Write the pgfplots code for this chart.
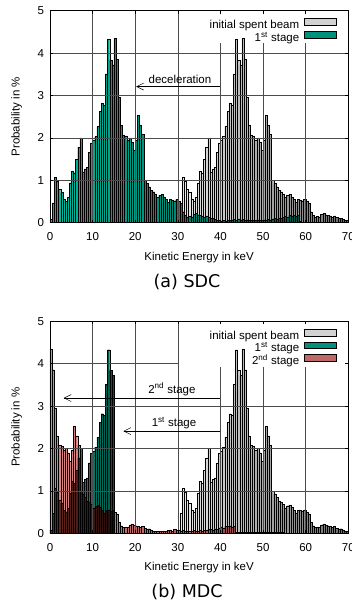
\documentclass[border=0pt]{standalone}
\usepackage{fontspec}
\setmainfont{Liberation Sans}
\newfontfamily\capfont{DejaVu Sans}
\usepackage{pgfplots}
\usepackage{pgfplotstable}
\pgfplotsset{compat=1.18}
\usetikzlibrary{arrows.meta}
\definecolor{grayc}{RGB}{210,210,210}
\definecolor{tealc}{RGB}{0,145,125}
\definecolor{redc}{RGB}{192,104,104}
\definecolor{grayL}{RGB}{235,235,235}
\definecolor{grayR}{RGB}{105,105,105}
\definecolor{tealL}{RGB}{0,185,160}
\definecolor{tealR}{RGB}{0,85,72}
\definecolor{redL}{RGB}{225,135,135}
\definecolor{redR}{RGB}{135,58,58}
\definecolor{darkL}{RGB}{105,40,32}
\definecolor{darkR}{RGB}{35,12,10}

% initial spent beam (SDC and MDC)
\pgfplotstableread{
E P
30.25 0.08
30.75 0.47
31.25 1.07
31.75 0.97
32.25 0.79
32.75 0.71
33.25 0.55
33.75 0.51
34.25 0.60
34.75 0.94
35.25 1.22
35.75 1.18
36.25 1.49
36.75 1.78
37.25 2.00
37.75 1.20
38.25 1.27
38.75 1.31
39.25 1.66
39.75 1.88
40.25 1.94
40.75 2.03
41.25 2.27
41.75 2.62
42.25 2.82
42.75 2.78
43.25 3.51
43.75 4.33
44.25 3.84
44.75 3.72
45.25 4.35
45.75 3.86
46.25 2.95
46.75 2.30
47.25 2.07
47.75 2.05
48.25 1.95
48.75 2.00
49.25 1.90
49.75 1.70
50.25 1.95
50.75 2.53
51.25 2.30
51.75 2.08
52.25 1.00
52.75 0.93
53.25 0.85
53.75 0.76
54.25 0.73
54.75 0.68
55.25 0.60
55.75 0.65
56.25 0.67
56.75 0.61
57.25 0.55
57.75 0.48
58.25 0.55
58.75 0.54
59.25 0.52
59.75 0.55
60.25 0.50
60.75 0.46
61.25 0.26
61.75 0.18
62.25 0.14
62.75 0.15
63.25 0.14
63.75 0.20
64.25 0.22
64.75 0.19
65.25 0.18
65.75 0.16
66.25 0.14
66.75 0.16
67.25 0.12
67.75 0.10
68.25 0.11
68.75 0.08
69.25 0.06
69.75 0.05
}\initial

% 1st stage, SDC
\pgfplotstableread{
E P
0.25 0.08
0.75 0.47
1.25 1.07
1.75 0.97
2.25 0.79
2.75 0.71
3.25 0.55
3.75 0.51
4.25 0.60
4.75 0.94
5.25 1.22
5.75 1.18
6.25 1.49
6.75 1.78
7.25 2.00
7.75 1.20
8.25 1.27
8.75 1.31
9.25 1.66
9.75 1.88
10.25 1.94
10.75 2.03
11.25 2.27
11.75 2.62
12.25 2.82
12.75 2.78
13.25 3.51
13.75 4.33
14.25 3.84
14.75 3.72
15.25 4.35
15.75 3.86
16.25 2.95
16.75 2.30
17.25 2.07
17.75 2.05
18.25 1.95
18.75 2.00
19.25 1.90
19.75 1.70
20.25 1.95
20.75 2.53
21.25 2.30
21.75 2.08
22.25 1.00
22.75 0.93
23.25 0.85
23.75 0.76
24.25 0.73
24.75 0.68
25.25 0.60
25.75 0.65
26.25 0.67
26.75 0.61
27.25 0.55
27.75 0.48
28.25 0.55
28.75 0.54
29.25 0.52
29.75 0.55
30.25 0.50
30.75 0.46
31.25 0.26
31.75 0.18
32.25 0.14
32.75 0.15
33.25 0.14
33.75 0.20
34.25 0.22
34.75 0.19
35.25 0.18
35.75 0.16
36.25 0.14
36.75 0.16
37.25 0.12
37.75 0.10
38.25 0.11
38.75 0.08
39.25 0.06
39.75 0.05
40.25 0.04
40.75 0.05
41.25 0.04
41.75 0.06
42.25 0.05
42.75 0.07
43.25 0.08
43.75 0.06
44.25 0.09
44.75 0.07
45.25 0.08
45.75 0.06
46.25 0.07
46.75 0.05
47.25 0.06
47.75 0.05
48.25 0.06
48.75 0.07
49.25 0.05
49.75 0.06
50.25 0.07
50.75 0.06
51.25 0.08
51.75 0.07
52.25 0.09
52.75 0.10
53.25 0.08
53.75 0.11
54.25 0.10
54.75 0.13
55.25 0.15
55.75 0.13
56.25 0.17
56.75 0.16
57.25 0.18
57.75 0.15
58.25 0.17
58.75 0.03
}\firstsdc

% 1st stage, MDC
\pgfplotstableread{
E P
0.25 0.08
0.75 0.47
1.25 1.07
1.75 0.97
2.25 0.79
2.75 0.71
3.25 0.55
3.75 0.51
4.25 0.60
4.75 0.94
5.25 1.22
5.75 1.18
6.25 1.49
6.75 1.78
7.25 2.00
7.75 1.20
8.25 1.27
8.75 1.31
9.25 1.66
9.75 1.88
10.25 1.94
10.75 2.03
11.25 2.27
11.75 2.62
12.25 2.82
12.75 2.78
13.25 3.51
13.75 4.33
14.25 3.84
14.75 3.72
}\firstmdc

% 2nd stage, MDC
\pgfplotstableread{
E P
0.25 4.35
0.75 3.86
1.25 2.95
1.75 2.30
2.25 2.07
2.75 2.05
3.25 1.95
3.75 2.00
4.25 1.90
4.75 1.70
5.25 1.95
5.75 2.53
6.25 2.30
6.75 2.08
7.25 1.00
7.75 0.93
8.25 0.85
8.75 0.76
9.25 0.73
9.75 0.68
10.25 0.60
10.75 0.65
11.25 0.67
11.75 0.61
12.25 0.55
12.75 0.48
13.25 0.55
13.75 0.54
14.25 0.52
14.75 0.55
15.25 0.50
15.75 0.46
16.25 0.26
16.75 0.18
17.25 0.14
17.75 0.15
18.25 0.14
18.75 0.20
19.25 0.22
19.75 0.19
20.25 0.18
20.75 0.16
21.25 0.14
21.75 0.16
22.25 0.12
22.75 0.10
23.25 0.11
23.75 0.08
24.25 0.06
24.75 0.05
25.25 0.04
25.75 0.05
26.25 0.04
26.75 0.06
27.25 0.05
27.75 0.07
28.25 0.08
28.75 0.06
29.25 0.09
29.75 0.07
30.25 0.08
30.75 0.06
31.25 0.07
31.75 0.05
32.25 0.06
32.75 0.05
33.25 0.06
33.75 0.07
34.25 0.05
34.75 0.06
35.25 0.07
35.75 0.06
36.25 0.08
36.75 0.07
37.25 0.09
37.75 0.10
38.25 0.08
38.75 0.11
39.25 0.10
39.75 0.13
40.25 0.15
40.75 0.13
41.25 0.17
41.75 0.16
42.25 0.18
42.75 0.15
43.25 0.17
43.75 0.03
44.25 0.02
44.75 0.02
45.25 0.02
45.75 0.02
46.25 0.02
46.75 0.02
47.25 0.02
47.75 0.02
48.25 0.02
48.75 0.02
49.25 0.02
49.75 0.02
50.25 0.02
50.75 0.02
51.25 0.02
51.75 0.02
52.25 0.02
52.75 0.02
53.25 0.02
53.75 0.02
54.25 0.02
54.75 0.02
}\secondmdc

% overlap of 1st and 2nd stage (dark part), MDC
\pgfplotstableread{
E P
0.25 0.08
0.75 0.47
1.25 1.07
1.75 0.97
2.25 0.79
2.75 0.71
3.25 0.55
3.75 0.51
4.25 0.60
4.75 0.94
5.25 1.22
5.75 1.18
6.25 1.49
6.75 1.78
7.25 1.00
7.75 0.93
8.25 0.85
8.75 0.76
9.25 0.73
9.75 0.68
10.25 0.60
10.75 0.65
11.25 0.67
11.75 0.61
12.25 0.55
12.75 0.48
13.25 0.55
13.75 0.54
14.25 0.52
14.75 0.55
}\overlapmdc

\newcommand{\txt}{\fontsize{11.5}{13}\selectfont}

\tikzset{gridline/.style={black!70, line width=0.55pt}}

\pgfplotsset{
  hist/.style={
    scale only axis, width=298.3pt, height=212pt,
    xmin=0, xmax=70, ymin=0, ymax=5,
    xtick={0,10,...,70}, ytick={0,1,...,5},
    /pgf/number format/assume math mode=true,
    axis on top,
    axis line style={line width=0.8pt},
    major tick length=3pt, tick style={black, line width=0.5pt},
    tick align=inside,
    ticklabel style={font=\txt},
    xticklabel style={anchor=center, yshift=-14pt},
    yticklabel style={anchor=east, xshift=-2.5pt},
    label style={font=\txt},
    xlabel={Kinetic Energy in keV},
    ylabel={Probability in \%},
    x label style={at={(axis description cs:0.5,-0.163)}, anchor=center},
    y label style={at={(axis description cs:-0.112,0.5)}, anchor=center},
    legend cell align=right,
    legend plot pos=right,
    legend style={at={(rel axis cs:1,1)}, anchor=north east, draw=none, fill=none,
      font=\txt, inner xsep=11pt, inner ysep=7.5pt, row sep=-1.5pt,
      nodes={inner sep=1.2pt, text height=8.6pt, text depth=2.4pt},
      /tikz/every odd column/.append style={column sep=4pt}},
  },
  bars/.style={ybar, bar width=0.5, bar shift=0pt, draw=black, line width=0.25pt, forget plot},
  grayleg/.style={legend image code/.code={\draw[fill=grayc,draw=black,line width=0.7pt] (0pt,0.3pt) rectangle (32pt,7pt);}},
  tealleg/.style={legend image code/.code={\draw[fill=tealc,draw=black,line width=0.7pt] (0pt,0.3pt) rectangle (32pt,7pt);}},
  redleg/.style={legend image code/.code={\draw[fill=redc,draw=black,line width=0.7pt] (0pt,0.3pt) rectangle (32pt,7pt);}},
}

\begin{document}
\begin{tikzpicture}
\path[use as bounding box] (0pt,0pt) rectangle (352pt,605pt);

\begin{axis}[hist, at={(50pt,382.3pt)}, anchor=south west]
\addlegendimage{grayleg}
\addlegendentry{initial spent beam}
\addlegendimage{tealleg}
\addlegendentry{1\textsuperscript{st} stage}
\addplot[bars, left color=grayL, right color=grayR] table[x=E, y=P] {\initial};
\addplot[bars, left color=tealL, right color=tealR] table[x=E, y=P] {\firstsdc};
% grid (hidden behind the key)
\pgfplotsinvokeforeach{10,20,30}{\draw[gridline] (axis cs:#1,0) -- (axis cs:#1,5);}
\pgfplotsinvokeforeach{40,50,60}{\draw[gridline] (axis cs:#1,0) -- (axis cs:#1,4.24);}
\pgfplotsinvokeforeach{1,2,3,4}{\draw[gridline] (axis cs:0,#1) -- (axis cs:70,#1);}
\draw[line width=0.5pt, -{Straight Barb[length=7pt,width=7pt]}] (axis cs:40,3.21) -- (axis cs:20.2,3.21);
\node[font=\txt] at (axis cs:30.5,3.39) {deceleration};
\end{axis}

\begin{axis}[hist, at={(50pt,71.7pt)}, anchor=south west]
\addlegendimage{grayleg}
\addlegendentry{initial spent beam}
\addlegendimage{tealleg}
\addlegendentry{1\textsuperscript{st} stage}
\addlegendimage{redleg}
\addlegendentry{2\textsuperscript{nd} stage}
\addplot[bars, left color=grayL, right color=grayR] table[x=E, y=P] {\initial};
\addplot[bars, left color=tealL, right color=tealR] table[x=E, y=P] {\firstmdc};
\addplot[bars, left color=redL, right color=redR] table[x=E, y=P] {\secondmdc};
\addplot[bars, left color=darkL, right color=darkR] table[x=E, y=P] {\overlapmdc};
\pgfplotsinvokeforeach{10,20,30}{\draw[gridline] (axis cs:#1,0) -- (axis cs:#1,5);}
\pgfplotsinvokeforeach{40,50,60}{\draw[gridline] (axis cs:#1,0) -- (axis cs:#1,3.92);}
\pgfplotsinvokeforeach{1,2,3}{\draw[gridline] (axis cs:0,#1) -- (axis cs:70,#1);}
\draw[gridline] (axis cs:0,4) -- (axis cs:30.3,4);
\draw[line width=0.5pt, -{Straight Barb[length=7pt,width=7pt]}] (axis cs:40,3.19) -- (axis cs:3.2,3.19);
\node[font=\txt] at (axis cs:28.6,3.40) {2\textsuperscript{nd} stage};
\draw[line width=0.5pt, -{Straight Barb[length=7pt,width=7pt]}] (axis cs:40,2.41) -- (axis cs:17.2,2.41);
\node[font=\txt] at (axis cs:29.1,2.60) {1\textsuperscript{st} stage};
\end{axis}

\node[font=\capfont\fontsize{17.5}{20}\selectfont] at (187pt,322.8pt) {(a) SDC};
\node[font=\capfont\fontsize{17.5}{20}\selectfont] at (187pt,13.3pt) {(b) MDC};
\end{tikzpicture}
\end{document}
